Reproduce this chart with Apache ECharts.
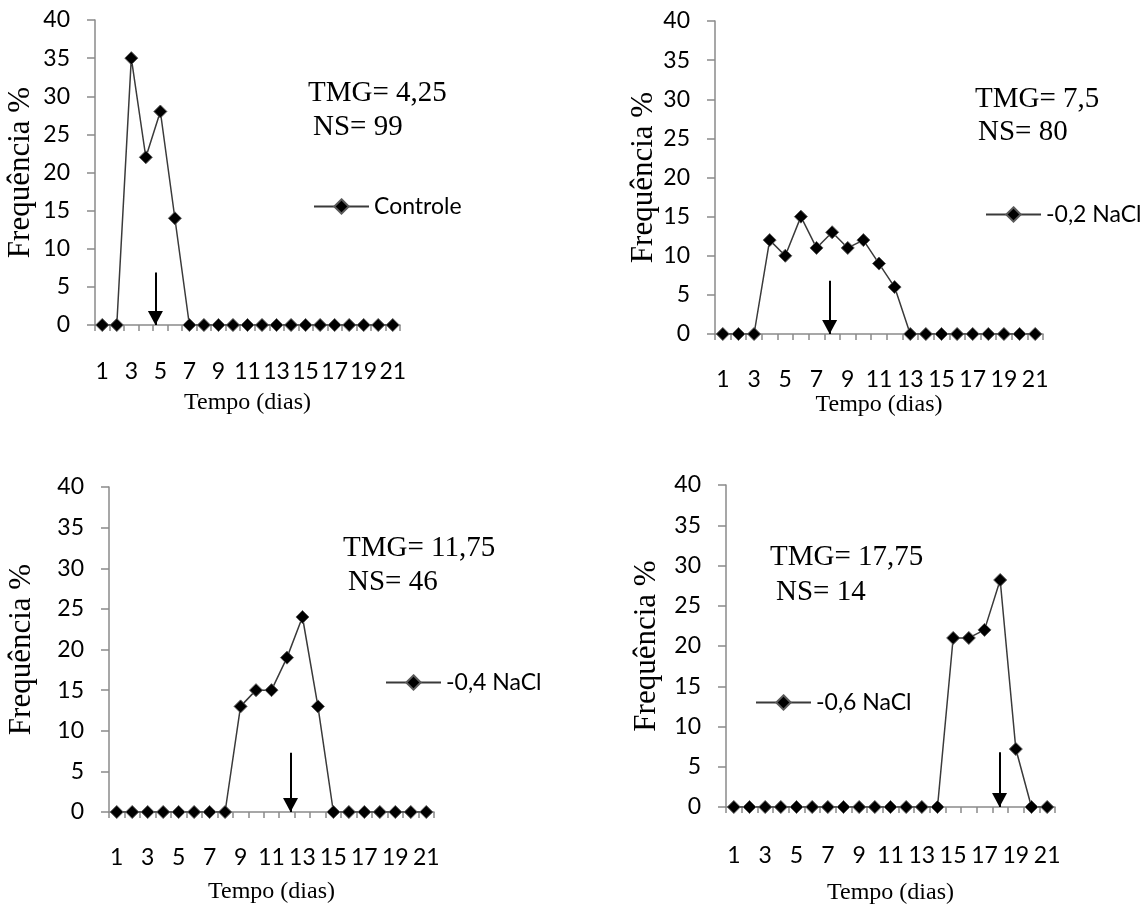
<!DOCTYPE html>
<html>
<head>
<meta charset="utf-8">
<script src="https://cdn.jsdelivr.net/npm/echarts@6/dist/echarts.min.js"></script>
<style>
  html, body { margin: 0; padding: 0; background: #fff; }
  #chart { width: 1148px; height: 907px; }
</style>
</head>
<body>
<div id="chart"></div>
<script>
// dias (categorias do eixo x)
const days = ['1','2','3','4','5','6','7','8','9','10','11','12','13','14','15','16','17','18','19','20','21']

// frequência % por dia
const controle = [0,0,35,22,28,14,0,0,0,0,0,0,0,0,0,0,0,0,0,0,0]
const nacl02 = [0,0,0,12,10,15,11,13,11,12,9,6,0,0,0,0,0,0,0,0,0]
const nacl04 = [0,0,0,0,0,0,0,0,13,15,15,19,24,13,0,0,0,0,0,0,0]
const nacl06 = [0,0,0,0,0,0,0,0,0,0,0,0,0,0,21,21,22,28.2,7.2,0,0]

const seriesNames = ['Controle', '-0,2 NaCl', '-0,4 NaCl', '-0,6 NaCl']
const tmgText = ['TMG= 4,25', 'TMG= 7,5', 'TMG= 11,75', 'TMG= 17,75']
const nsText = ['NS= 99', 'NS= 80', 'NS= 46', 'NS= 14']

// setas (posição em dias, altura do topo)
const arrowDay = [4.66, 7.84, 12.23, 17.96]
const arrowTop = [6.9, 6.8, 7.3, 6.8]

const yTicks = { min: 0, max: 40, interval: 5 }

const panels = [
  { data: controle, grid: { left: 95, top: 20, width: 305, height: 305 }, yGap: 59, xGap: 66, lblMargin: 35,
    legend: { left: 313, top: 195 }, tmg: [308, 93], ns: [313, 127] },
  { data: nacl02, grid: { left: 715, top: 21, width: 328, height: 313 }, yGap: 54, xGap: 59, lblMargin: 34,
    legend: { left: 985, top: 203 }, tmg: [975, 99], ns: [978, 132] },
  { data: nacl04, grid: { left: 109, top: 487, width: 325, height: 325 }, yGap: 72, xGap: 68, lblMargin: 34,
    legend: { left: 385, top: 671 }, tmg: [343, 548], ns: [348, 582] },
  { data: nacl06, grid: { left: 726, top: 485, width: 329, height: 322 }, yGap: 64, xGap: 74, lblMargin: 37,
    legend: { left: 755, top: 691 }, tmg: [770, 557], ns: [776, 592] }
]

const axisGray = '#8a8a8a'
const sans = 'Lato'
const serif = 'Liberation Serif'

const option = {
  animation: false,
  grid: panels.map(p => p.grid),
  xAxis: [],
  yAxis: [],
  legend: [],
  series: [],
  graphic: []
}

panels.forEach((p, i) => {
  option.xAxis.push({
    type: 'category',
    gridIndex: i,
    data: days,
    boundaryGap: true,
    name: 'Tempo (dias)',
    nameLocation: 'middle',
    nameGap: p.xGap,
    nameTextStyle: { fontFamily: serif, fontSize: 24, color: '#000' },
    axisLine: { lineStyle: { color: axisGray, width: 1.5 } },
    axisTick: { show: true, interval: 0, length: 6, lineStyle: { color: axisGray, width: 1.5 } },
    axisLabel: { interval: 1, margin: p.lblMargin, fontFamily: sans, fontSize: 23, color: '#000' },
    splitLine: { show: false }
  })
  // eixo auxiliar para a seta (em dias contínuos)
  option.xAxis.push({
    type: 'value',
    gridIndex: i,
    min: 0.5,
    max: 21.5,
    show: false
  })
  option.yAxis.push({
    type: 'value',
    gridIndex: i,
    min: yTicks.min,
    max: yTicks.max,
    interval: yTicks.interval,
    name: 'Frequência %',
    nameLocation: 'middle',
    nameRotate: 90,
    nameGap: p.yGap,
    nameTextStyle: { fontFamily: serif, fontSize: 31, color: '#000' },
    axisLine: { show: true, lineStyle: { color: axisGray, width: 1.5 } },
    axisTick: { show: true, length: 8, lineStyle: { color: axisGray, width: 1.5 } },
    axisLabel: { margin: 25, fontFamily: sans, fontSize: 23, color: '#000' },
    splitLine: { show: false }
  })
  option.legend.push({
    data: [seriesNames[i]],
    left: p.legend.left,
    top: p.legend.top,
    padding: 0,
    itemWidth: 55,
    itemHeight: 18,
    itemGap: 0,
    textStyle: { fontFamily: sans, fontSize: 23, color: '#000' }
  })
  option.series.push({
    name: seriesNames[i],
    type: 'line',
    xAxisIndex: i * 2,
    yAxisIndex: i,
    data: p.data,
    symbol: 'diamond',
    symbolSize: 13,
    showAllSymbol: true,
    lineStyle: { color: '#3a3a3a', width: 1.5 },
    itemStyle: { color: '#000', borderColor: '#5a5a5a', borderWidth: 1 }
  })
  option.series.push({
    name: 'seta' + i,
    type: 'line',
    xAxisIndex: i * 2 + 1,
    yAxisIndex: i,
    data: [],
    markLine: {
      silent: true,
      symbol: ['none', 'triangle'],
      symbolSize: [15, 14],
      symbolOffset: [[0, 0], [0, 7]],
      label: { show: false },
      lineStyle: { color: '#000', width: 2, type: 'solid' },
      data: [[{ coord: [arrowDay[i], arrowTop[i]] }, { coord: [arrowDay[i], 0] }]]
    }
  })
  option.graphic.push({
    type: 'text', x: p.tmg[0], y: p.tmg[1],
    style: { text: tmgText[i], font: '29px "' + serif + '"', fill: '#000', verticalAlign: 'middle' }
  })
  option.graphic.push({
    type: 'text', x: p.ns[0], y: p.ns[1],
    style: { text: nsText[i], font: '29px "' + serif + '"', fill: '#000', verticalAlign: 'middle' }
  })
})

const chart = echarts.init(document.getElementById('chart'))
chart.setOption(option)
</script>
</body>
</html>
